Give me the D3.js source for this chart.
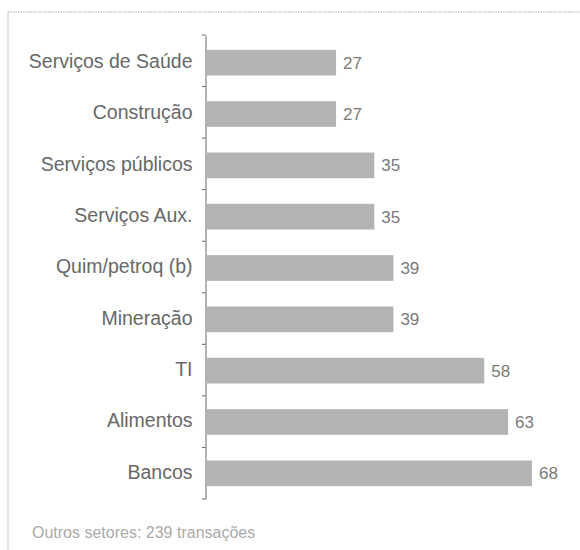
<!DOCTYPE html>
<html>
<head>
<meta charset="utf-8">
<script src="https://cdn.jsdelivr.net/npm/d3@7"></script>
<style>
  html, body { margin: 0; padding: 0; background: #fff; }
  svg { display: block; }
</style>
</head>
<body>
<script>
const categories = ["Serviços de Saúde", "Construção", "Serviços públicos", "Serviços Aux.", "Quim/petroq (b)", "Mineração", "TI", "Alimentos", "Bancos"];
const values = [27, 27, 35, 35, 39, 39, 58, 63, 68];
const footnote = "Outros setores: 239 transações";

const W = 580, H = 550;
const FONT = "Liberation Sans, Arial, sans-serif";
const svg = d3.select("body").append("svg").attr("width", W).attr("height", H);

// frame (dotted, top and left)
svg.append("line").attr("x1", 8).attr("x2", W).attr("y1", 12).attr("y2", 12)
  .attr("stroke", "#c8c8c8").attr("stroke-width", 1.5).attr("stroke-dasharray", "1.5,1");
svg.append("line").attr("x1", 8).attr("x2", 8).attr("y1", 12).attr("y2", H)
  .attr("stroke", "#c8c8c8").attr("stroke-width", 1.5).attr("stroke-dasharray", "1.5,1");

const x = d3.scaleLinear().domain([0, 68]).range([207, 532]);
const y = d3.scaleBand().domain(categories).range([35, 499]).paddingInner(0.5).paddingOuter(0.27);

// bars
svg.append("g").selectAll("rect").data(categories).join("rect")
  .attr("x", x(0))
  .attr("y", d => y(d) + 1)
  .attr("width", (d, i) => x(values[i]) - x(0))
  .attr("height", y.bandwidth())
  .attr("fill", "#b3b3b3");

// value labels
svg.append("g").selectAll("text").data(categories).join("text")
  .attr("x", (d, i) => x(values[i]) + 7)
  .attr("y", d => y(d) + 1 + y.bandwidth() / 2)
  .attr("dy", "0.35em")
  .attr("font-family", FONT)
  .attr("font-size", 17)
  .attr("fill", "#7a7a7a")
  .text((d, i) => values[i]);

// axis with category labels
const axis = svg.append("g").attr("transform", "translate(205.5,0)")
  .call(d3.axisLeft(y).tickSize(0).tickPadding(13));
axis.select(".domain").attr("stroke", "#666").attr("stroke-width", 1);
axis.selectAll("text")
  .attr("font-family", FONT)
  .attr("font-size", 19.5)
  .attr("fill", "#686868");

// boundary ticks
const step = (y.range()[1] - y.range()[0]) / categories.length;
svg.append("g").selectAll("line").data(d3.range(categories.length + 1)).join("line")
  .attr("x1", 202).attr("x2", 205.5)
  .attr("y1", i => y.range()[0] + i * step)
  .attr("y2", i => y.range()[0] + i * step)
  .attr("stroke", "#666").attr("stroke-width", 1);

// footnote
svg.append("text")
  .attr("x", 32).attr("y", 538)
  .attr("font-family", FONT)
  .attr("font-size", 16)
  .attr("fill", "#aaa")
  .text(footnote);
</script>
</body>
</html>
